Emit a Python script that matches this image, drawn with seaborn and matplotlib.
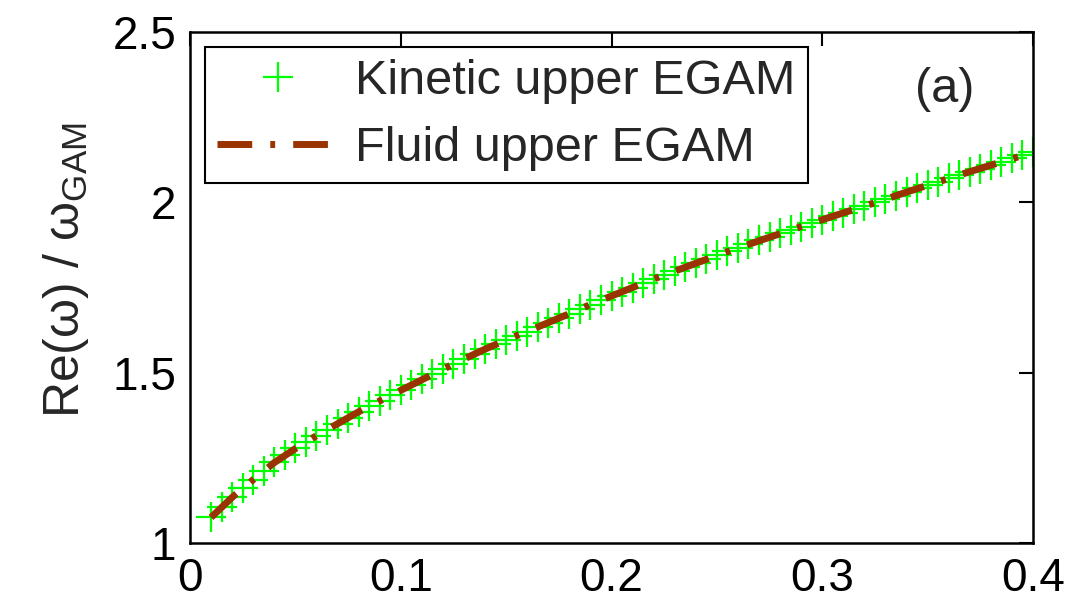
import numpy as np
import pandas as pd
import matplotlib
matplotlib.use("Agg")
import matplotlib.pyplot as plt
import seaborn as sns
from matplotlib.lines import Line2D

# ---- data ----
kin_x = [0.010, 0.015, 0.020, 0.025, 0.030, 0.035, 0.040, 0.045, 0.050, 0.055,
         0.060, 0.065, 0.070, 0.075, 0.080, 0.085, 0.090, 0.095, 0.100, 0.105,
         0.110, 0.115, 0.120, 0.125, 0.130, 0.135, 0.140, 0.145, 0.150, 0.155,
         0.160, 0.165, 0.170, 0.175, 0.180, 0.185, 0.190, 0.195, 0.200, 0.205,
         0.210, 0.215, 0.220, 0.225, 0.230, 0.235, 0.240, 0.245, 0.250, 0.255,
         0.260, 0.265, 0.270, 0.275, 0.280, 0.285, 0.290, 0.295, 0.300, 0.305,
         0.310, 0.315, 0.320, 0.325, 0.330, 0.335, 0.340, 0.345, 0.350, 0.355,
         0.360, 0.365, 0.370, 0.375, 0.380, 0.385, 0.390, 0.395, 0.400]
kin_y = [1.077, 1.105, 1.135, 1.160, 1.185, 1.210, 1.238, 1.258, 1.278, 1.297,
         1.315, 1.332, 1.350, 1.367, 1.385, 1.402, 1.418, 1.434, 1.448, 1.463,
         1.480, 1.495, 1.510, 1.525, 1.541, 1.556, 1.570, 1.583, 1.596, 1.608,
         1.620, 1.633, 1.646, 1.660, 1.673, 1.687, 1.700, 1.713, 1.726, 1.738,
         1.750, 1.763, 1.775, 1.786, 1.798, 1.810, 1.821, 1.833, 1.844, 1.856,
         1.867, 1.877, 1.888, 1.898, 1.909, 1.919, 1.929, 1.939, 1.949, 1.959,
         1.969, 1.980, 1.990, 2.000, 2.010, 2.020, 2.031, 2.041, 2.050, 2.060,
         2.070, 2.080, 2.090, 2.099, 2.109, 2.119, 2.129, 2.138, 2.147]

fluid_x = [0.010, 0.020, 0.030, 0.040, 0.050, 0.060, 0.070, 0.080, 0.090, 0.100,
           0.110, 0.120, 0.130, 0.140, 0.150, 0.160, 0.170, 0.180, 0.190, 0.200,
           0.210, 0.220, 0.230, 0.240, 0.250, 0.260, 0.270, 0.280, 0.290, 0.300,
           0.310, 0.320, 0.330, 0.340, 0.350, 0.360, 0.370, 0.380, 0.390, 0.400]
fluid_y = [1.075, 1.134, 1.186, 1.236, 1.277, 1.315, 1.350, 1.385, 1.417, 1.448,
           1.479, 1.510, 1.540, 1.569, 1.596, 1.621, 1.647, 1.673, 1.700, 1.725,
           1.750, 1.775, 1.798, 1.821, 1.844, 1.866, 1.887, 1.908, 1.929, 1.949,
           1.969, 1.989, 2.009, 2.030, 2.050, 2.070, 2.090, 2.109, 2.128, 2.146]

labels = ["Kinetic upper EGAM", "Fluid upper EGAM"]
x_ticks = [0, 0.1, 0.2, 0.3, 0.4]
y_ticks = [1, 1.5, 2, 2.5]
x_ticklabels = ["0", "0.1", "0.2", "0.3", "0.4"]
y_ticklabels = ["1", "1.5", "2", "2.5"]

# ---- style ----
sns.set_style("white")
plt.rcParams["font.family"] = ["Liberation Sans", "DejaVu Sans"]
plt.rcParams["mathtext.fontset"] = "custom"
plt.rcParams["mathtext.rm"] = "Liberation Sans"
plt.rcParams["mathtext.it"] = "Liberation Sans"

GREEN = "#00ff00"
BROWN = "#993300"
FS = 33
LFS = 35
DASH = (5.0, 2.6, 0.7, 2.6)

fig = plt.figure(figsize=(10.69, 6.05), dpi=100)
ax = fig.add_axes([190 / 1069, 1 - 543 / 605, (1033 - 190) / 1069, (543 - 32) / 605])

kin = pd.DataFrame({"x": kin_x, "y": kin_y})
flu = pd.DataFrame({"x": fluid_x, "y": fluid_y})

sns.scatterplot(data=kin, x="x", y="y", marker="+", s=480, color=GREEN,
                linewidth=1.6, ax=ax, legend=False, zorder=2)
sns.lineplot(data=flu, x="x", y="y", color=BROWN, linewidth=5.0, ax=ax,
             legend=False, zorder=3)
line = ax.lines[-1]
line.set_dashes(DASH)
line.set_dash_capstyle("butt")

ax.set_xlim(0, 0.4)
ax.set_ylim(1, 2.5)
ax.set_xticks(x_ticks)
ax.set_xticklabels(x_ticklabels)
ax.set_yticks(y_ticks)
ax.set_yticklabels(y_ticklabels)
ax.tick_params(direction="in", length=10, width=1.5, top=True, right=True,
               labelsize=FS, pad=10, colors="black")
for s in ax.spines.values():
    s.set_visible(True)
    s.set_color("black")
    s.set_linewidth(1.8)

ax.set_xlabel("")
ax.set_ylabel(r"Re($\omega$) / $\omega_{\mathrm{GAM}}$", fontsize=36)
ax.yaxis.set_label_coords(-0.117, 0.535)

ax.text(0.358, 2.33, "(a)", fontsize=LFS, ha="center", va="center")

h1 = Line2D([], [], linestyle="none", marker="+", markersize=22,
            markeredgewidth=1.6, color=GREEN)
h2 = Line2D([], [], color=BROWN, linewidth=5.0, dashes=DASH,
            dash_capstyle="butt")
leg = ax.legend([h1, h2], labels, loc="upper left", fontsize=LFS,
                frameon=True, fancybox=False, framealpha=1, edgecolor="black",
                handlelength=2.5, handletextpad=0.35, borderpad=0.25,
                labelspacing=0.45, borderaxespad=0.3)
leg.get_frame().set_linewidth(1.5)

fig.savefig("out.png", dpi=100)
